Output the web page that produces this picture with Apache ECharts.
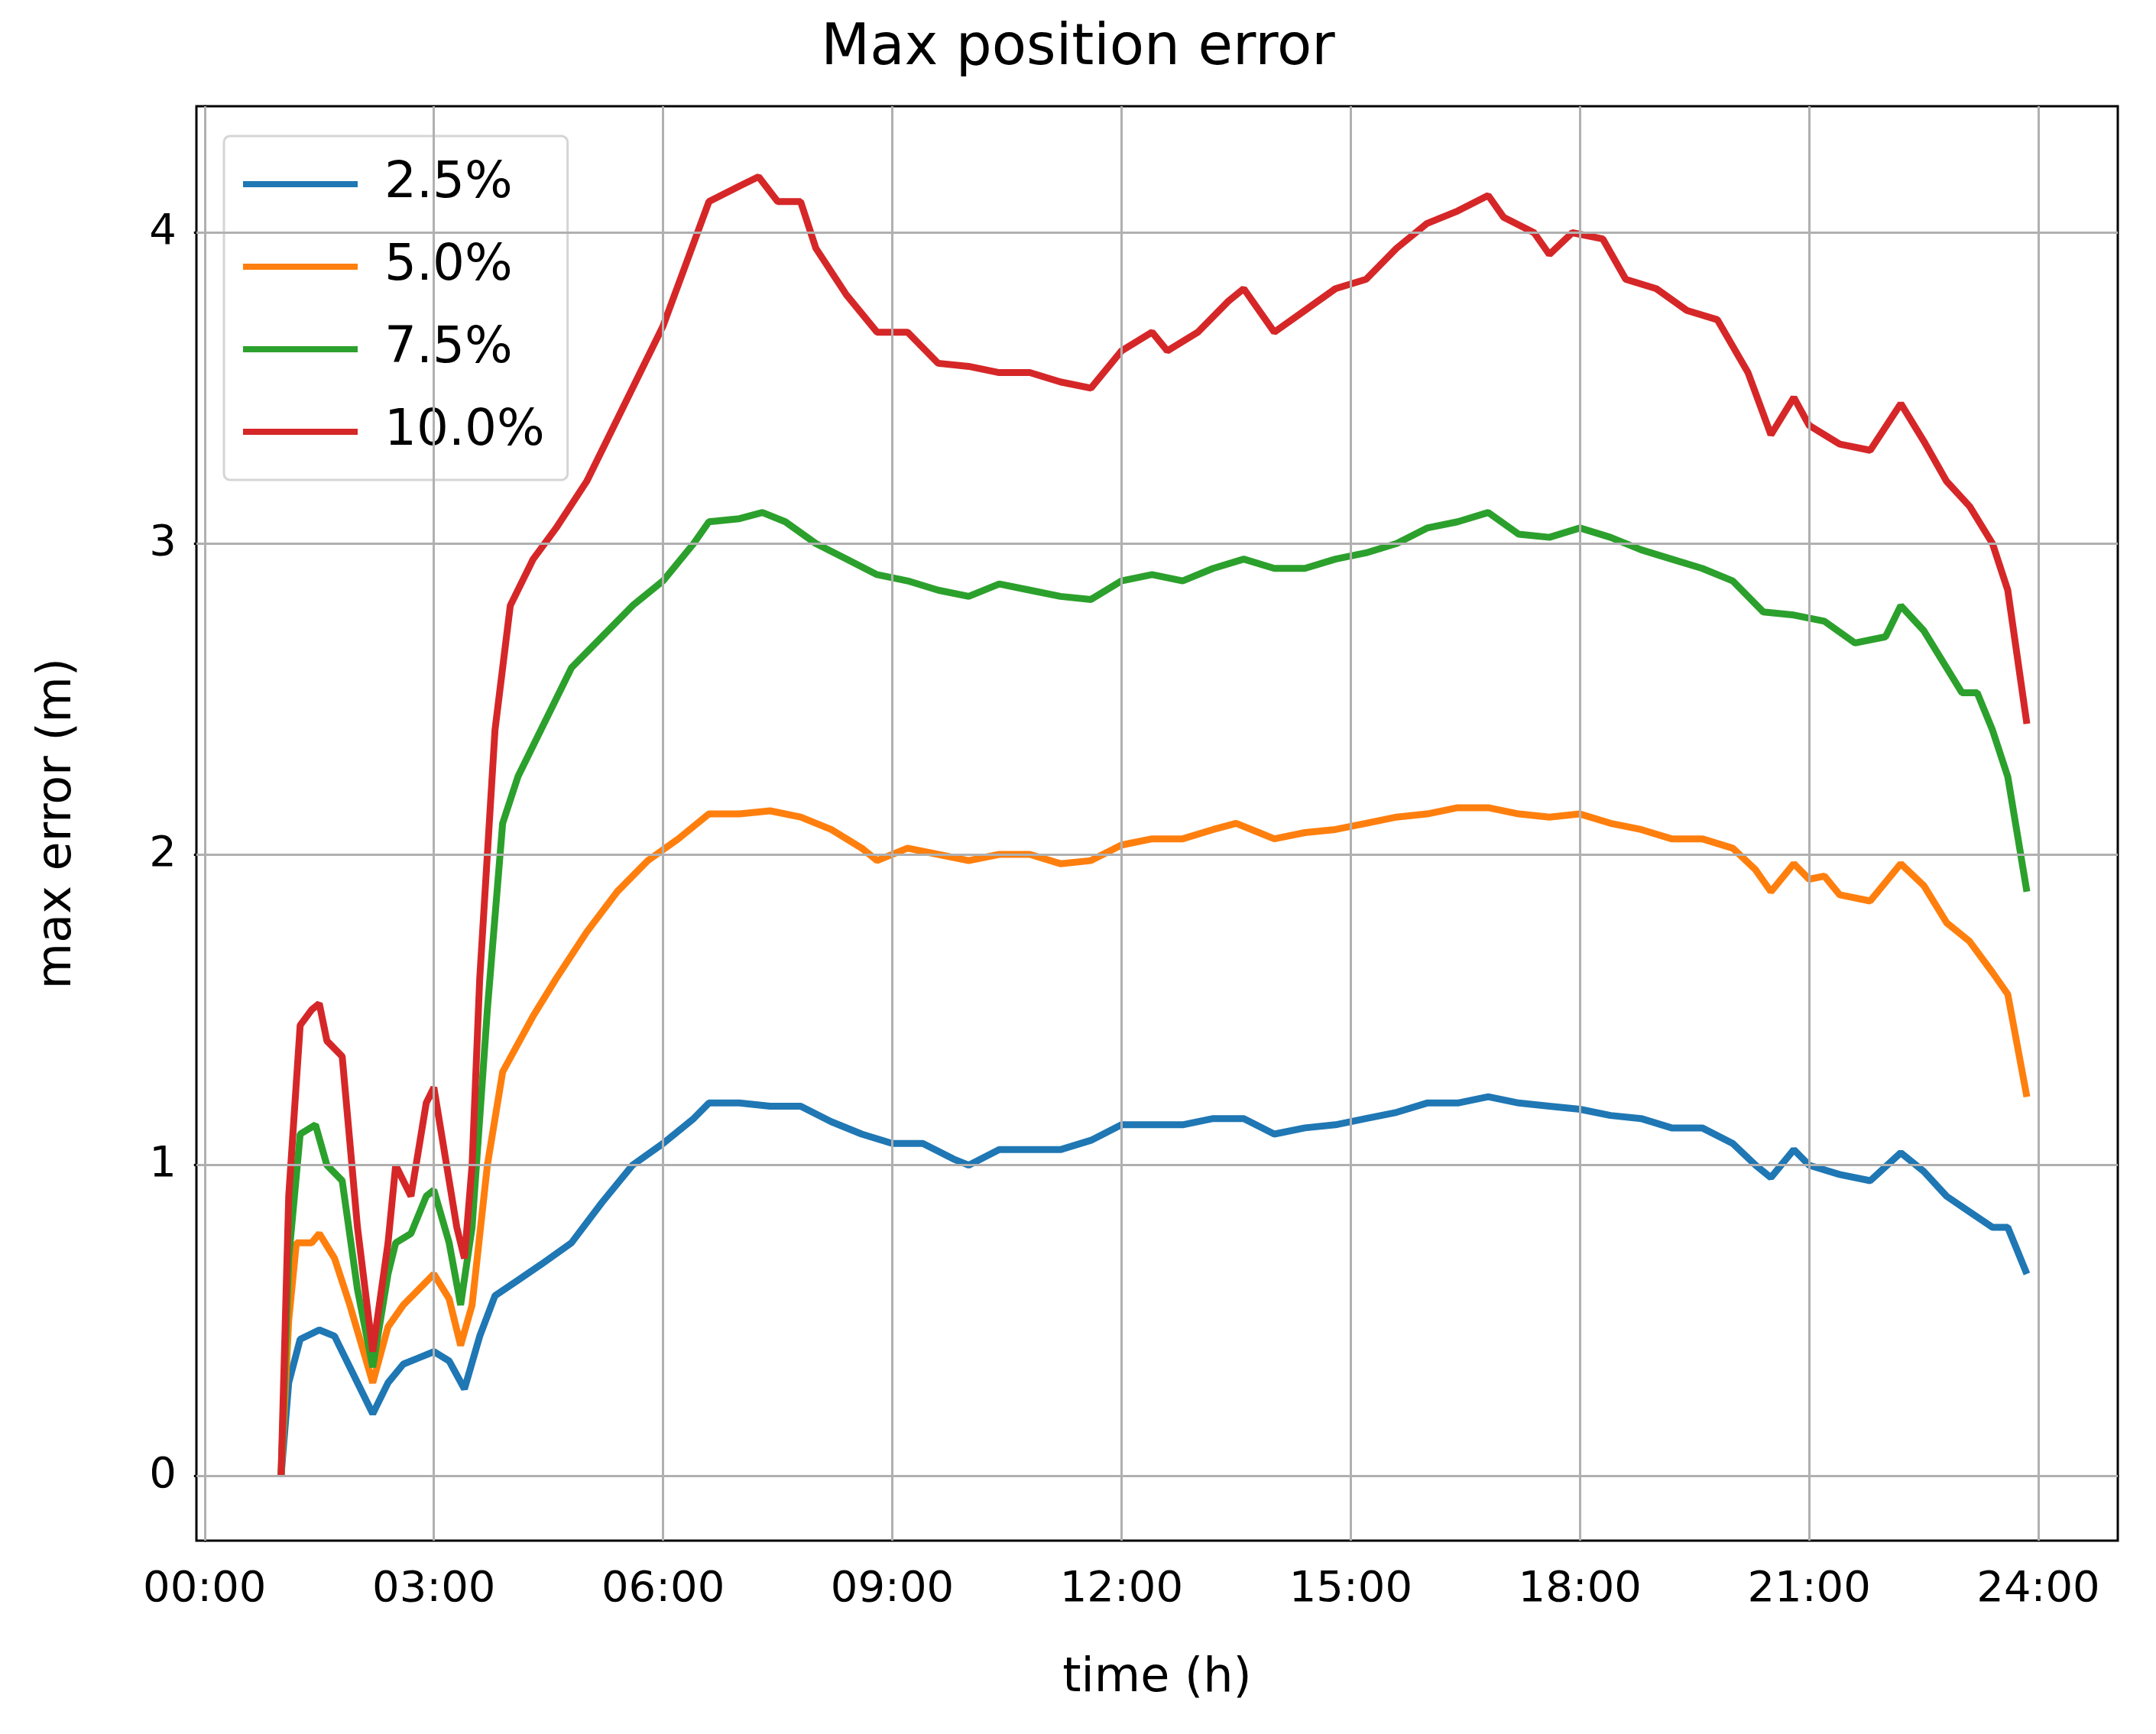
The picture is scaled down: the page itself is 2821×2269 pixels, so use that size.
<!DOCTYPE html>
<html>
<head>
<meta charset="utf-8">
<script src="https://cdn.jsdelivr.net/npm/echarts@6/dist/echarts.min.js"></script>
<style>html,body{margin:0;padding:0;background:#fff}#chart{width:2821px;height:2269px}</style>
</head>
<body>
<div id="chart"></div>
<script>
// time in hours, max error in metres
let xTicks = [0, 3, 6, 9, 12, 15, 18, 21, 24];
let yTicks = [0, 1, 2, 3, 4];
let seriesNames = ['2.5%', '5.0%', '7.5%', '10.0%'];
let colorList = ['#1f77b4', '#ff7f0e', '#2ca02c', '#d62728'];

let err25 = [[1.0,0],[1.1,0.3],[1.25,0.44],[1.5,0.47],[1.7,0.45],[1.9,0.35],[2.2,0.2],[2.4,0.3],[2.6,0.36],[2.8,0.38],[3.0,0.4],[3.2,0.37],[3.4,0.28],[3.6,0.45],[3.8,0.58],[4.1,0.63],[4.4,0.68],[4.8,0.75],[5.2,0.88],[5.6,1.0],[6.0,1.07],[6.4,1.15],[6.6,1.2],[7.0,1.2],[7.4,1.19],[7.8,1.19],[8.2,1.14],[8.6,1.1],[9.0,1.07],[9.4,1.07],[9.8,1.02],[10.0,1.0],[10.4,1.05],[10.8,1.05],[11.2,1.05],[11.6,1.08],[12.0,1.13],[12.4,1.13],[12.8,1.13],[13.2,1.15],[13.6,1.15],[14.0,1.1],[14.4,1.12],[14.8,1.13],[15.2,1.15],[15.6,1.17],[16.0,1.2],[16.4,1.2],[16.8,1.22],[17.2,1.2],[17.6,1.19],[18.0,1.18],[18.4,1.16],[18.8,1.15],[19.2,1.12],[19.6,1.12],[20.0,1.07],[20.3,1.0],[20.5,0.96],[20.8,1.05],[21.0,1.0],[21.4,0.97],[21.8,0.95],[22.2,1.04],[22.5,0.98],[22.8,0.9],[23.1,0.85],[23.4,0.8],[23.6,0.8],[23.85,0.65]];
let err50 = [[1.0,0],[1.1,0.5],[1.2,0.75],[1.4,0.75],[1.5,0.78],[1.7,0.7],[1.9,0.55],[2.2,0.3],[2.4,0.48],[2.6,0.55],[2.8,0.6],[3.0,0.65],[3.2,0.57],[3.35,0.42],[3.5,0.55],[3.7,1.0],[3.9,1.3],[4.3,1.48],[4.6,1.6],[5.0,1.75],[5.4,1.88],[5.8,1.98],[6.2,2.05],[6.6,2.13],[7.0,2.13],[7.4,2.14],[7.8,2.12],[8.2,2.08],[8.6,2.02],[8.8,1.98],[9.2,2.02],[9.6,2.0],[10.0,1.98],[10.4,2.0],[10.8,2.0],[11.2,1.97],[11.6,1.98],[12.0,2.03],[12.4,2.05],[12.8,2.05],[13.2,2.08],[13.5,2.1],[13.8,2.07],[14.0,2.05],[14.4,2.07],[14.8,2.08],[15.2,2.1],[15.6,2.12],[16.0,2.13],[16.4,2.15],[16.8,2.15],[17.2,2.13],[17.6,2.12],[18.0,2.13],[18.4,2.1],[18.8,2.08],[19.2,2.05],[19.6,2.05],[20.0,2.02],[20.3,1.95],[20.5,1.88],[20.8,1.97],[21.0,1.92],[21.2,1.93],[21.4,1.87],[21.8,1.85],[22.2,1.97],[22.5,1.9],[22.8,1.78],[23.1,1.72],[23.4,1.62],[23.6,1.55],[23.85,1.22]];
let err75 = [[1.0,0],[1.1,0.7],[1.25,1.1],[1.45,1.13],[1.6,1.0],[1.8,0.95],[2.0,0.6],[2.2,0.35],[2.4,0.65],[2.5,0.75],[2.7,0.78],[2.9,0.9],[3.0,0.92],[3.2,0.75],[3.35,0.55],[3.5,0.8],[3.7,1.5],[3.9,2.1],[4.1,2.25],[4.4,2.4],[4.8,2.6],[5.2,2.7],[5.6,2.8],[6.0,2.88],[6.4,3.0],[6.6,3.07],[7.0,3.08],[7.3,3.1],[7.6,3.07],[8.0,3.0],[8.4,2.95],[8.8,2.9],[9.2,2.88],[9.6,2.85],[10.0,2.83],[10.4,2.87],[10.8,2.85],[11.2,2.83],[11.6,2.82],[12.0,2.88],[12.4,2.9],[12.8,2.88],[13.2,2.92],[13.6,2.95],[14.0,2.92],[14.4,2.92],[14.8,2.95],[15.2,2.97],[15.6,3.0],[16.0,3.05],[16.4,3.07],[16.8,3.1],[17.2,3.03],[17.6,3.02],[18.0,3.05],[18.4,3.02],[18.8,2.98],[19.2,2.95],[19.6,2.92],[20.0,2.88],[20.4,2.78],[20.8,2.77],[21.2,2.75],[21.6,2.68],[22.0,2.7],[22.2,2.8],[22.5,2.72],[22.8,2.6],[23.0,2.52],[23.2,2.52],[23.4,2.4],[23.6,2.25],[23.85,1.88]];
let err100 = [[1.0,0],[1.1,0.9],[1.25,1.45],[1.4,1.5],[1.5,1.52],[1.6,1.4],[1.8,1.35],[2.0,0.8],[2.2,0.4],[2.4,0.75],[2.5,1.0],[2.7,0.9],[2.9,1.2],[3.0,1.25],[3.1,1.1],[3.3,0.8],[3.4,0.7],[3.5,1.0],[3.6,1.6],[3.8,2.4],[4.0,2.8],[4.3,2.95],[4.6,3.05],[5.0,3.2],[5.5,3.45],[6.0,3.7],[6.3,3.9],[6.6,4.1],[7.0,4.15],[7.25,4.18],[7.5,4.1],[7.8,4.1],[8.0,3.95],[8.4,3.8],[8.8,3.68],[9.2,3.68],[9.6,3.58],[10.0,3.57],[10.4,3.55],[10.8,3.55],[11.2,3.52],[11.6,3.5],[12.0,3.62],[12.4,3.68],[12.6,3.62],[13.0,3.68],[13.4,3.78],[13.6,3.82],[14.0,3.68],[14.4,3.75],[14.8,3.82],[15.2,3.85],[15.6,3.95],[16.0,4.03],[16.4,4.07],[16.8,4.12],[17.0,4.05],[17.4,4.0],[17.6,3.93],[17.9,4.0],[18.3,3.98],[18.6,3.85],[19.0,3.82],[19.4,3.75],[19.8,3.72],[20.2,3.55],[20.5,3.35],[20.8,3.47],[21.0,3.38],[21.4,3.32],[21.8,3.3],[22.2,3.45],[22.5,3.33],[22.8,3.2],[23.1,3.12],[23.4,3.0],[23.6,2.85],[23.85,2.42]];
let seriesData = [err25, err50, err75, err100];

(function () {
  let myChart = echarts.init(document.getElementById('chart'));
  let font = 'DejaVu Sans';
  let pad = (h) => (h < 10 ? '0' : '') + h + ':00';

  // grid lines drawn as markLines so they sit on the custom tick values
  let gridLines = xTicks.map((v) => ({ xAxis: v })).concat(yTicks.map((v) => ({ yAxis: v })));

  let series = seriesData.map((d, i) => ({
    name: seriesNames[i],
    type: 'line',
    data: d,
    showSymbol: false,
    z: 3,
    lineStyle: { width: 9, color: colorList[i] },
    itemStyle: { color: colorList[i] }
  }));
  series.unshift({
    type: 'line',
    data: [],
    silent: true,
    z: 1,
    markLine: {
      silent: true,
      symbol: 'none',
      label: { show: false },
      lineStyle: { color: '#b0b0b0', width: 3, type: 'solid' },
      data: gridLines
    }
  });

  let option = {
    animation: false,
    backgroundColor: '#fff',
    title: {
      text: 'Max position error',
      left: 'center',
      top: 28,
      padding: [0, 0, 0, 210],
      textStyle: { fontFamily: font, fontSize: 74, fontWeight: 'normal', color: '#000' }
    },
    legend: {
      data: seriesNames,
      orient: 'vertical',
      left: 293,
      top: 178,
      padding: [30, 30, 30, 25],
      itemGap: 42,
      itemWidth: 150,
      itemHeight: 8,
      icon: 'rect',
      borderColor: '#d5d5d5',
      borderWidth: 3,
      borderRadius: 8,
      backgroundColor: 'rgba(255,255,255,0.85)',
      textStyle: { fontFamily: font, fontSize: 66, color: '#000', padding: [0, 0, 0, 30] }
    },
    grid: {
      left: 257, right: 50, top: 139, bottom: 253,
      show: true, borderColor: '#000', borderWidth: 3, backgroundColor: 'transparent'
    },
    xAxis: {
      type: 'value',
      min: -0.108,
      max: 25.04,
      name: 'time (h)',
      nameLocation: 'middle',
      nameGap: 150,
      nameTextStyle: { fontFamily: font, fontSize: 62, color: '#000' },
      axisLine: { show: true, lineStyle: { color: '#000', width: 3 } },
      axisTick: { show: true, customValues: xTicks, length: 14, lineStyle: { color: '#000', width: 3 } },
      axisLabel: { customValues: xTicks, formatter: pad, fontFamily: font, fontSize: 56, color: '#000', margin: 36 },
      splitLine: { show: false }
    },
    yAxis: {
      type: 'value',
      min: -0.208,
      max: 4.407,
      name: 'max error (m)',
      nameLocation: 'middle',
      nameGap: 150,
      nameTextStyle: { fontFamily: font, fontSize: 62, color: '#000' },
      axisLine: { show: true, lineStyle: { color: '#000', width: 3 } },
      axisTick: { show: true, customValues: yTicks, length: 14, lineStyle: { color: '#000', width: 3 } },
      axisLabel: { customValues: yTicks, fontFamily: font, fontSize: 56, color: '#000', margin: 26 },
      splitLine: { show: false }
    },
    series: series
  };
  myChart.setOption(option);
})();
</script>
</body>
</html>
